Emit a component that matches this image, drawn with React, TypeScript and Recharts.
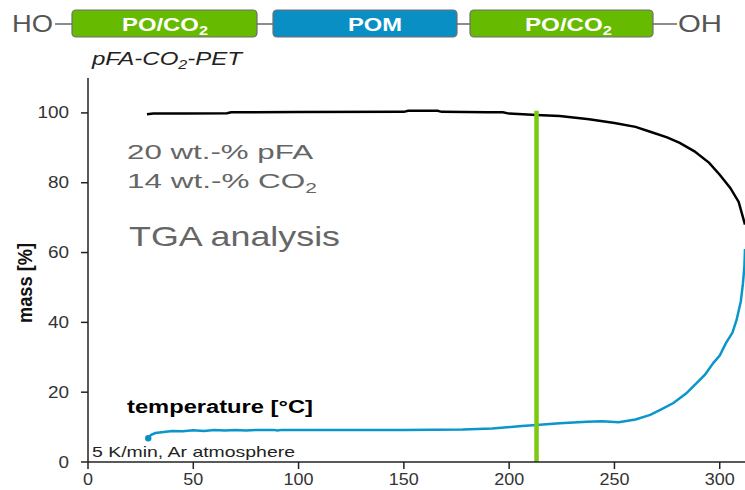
import React from 'react';
import { LineChart, Line, XAxis, YAxis, ReferenceLine } from 'recharts';

// mass curve (black): temperature [°C] vs mass [%]
const massTemp = [28, 31, 45, 66, 68, 100, 150, 152, 166, 168, 190, 197, 200, 213, 224, 238, 250, 260, 267, 275, 281, 288, 295, 300, 305, 309, 312];
const massValue = [99.6, 99.8, 99.8, 99.9, 100.2, 100.25, 100.3, 100.6, 100.6, 100.3, 100.2, 100.2, 99.8, 99.4, 99.1, 98.2, 97.1, 96.0, 94.6, 93.0, 91.4, 89.0, 85.7, 82.3, 78.5, 74.5, 68.0];

// temperature trace (blue)
const tempX = [28.6, 30, 32, 36, 40, 45, 50, 55, 60, 65, 70, 75, 80, 88, 90, 92, 120, 150, 178, 192, 206, 213, 224, 237, 244, 252, 260, 267, 272, 278, 284, 289, 293, 297, 300, 303, 306, 308, 310, 311, 311.7, 312];
const tempY = [6.8, 7.8, 8.3, 8.6, 8.9, 8.8, 9.1, 8.9, 9.2, 9.0, 9.2, 9.0, 9.2, 9.2, 9.0, 9.2, 9.2, 9.2, 9.3, 9.6, 10.3, 10.6, 11.1, 11.5, 11.7, 11.4, 12.2, 13.5, 15.0, 16.9, 19.6, 22.6, 25.0, 28.4, 30.5, 34.1, 37.0, 40.7, 46.0, 51.0, 56.0, 61.0];

const xTicks = [0, 50, 100, 150, 200, 250, 300];
const yTicks = [0, 20, 40, 60, 80, 100];
const markerTemp = 213;
const markerTop = 100.6;

const massData = massTemp.map((x, i) => ({ x, y: massValue[i] }));
const tempData = tempX.map((x, i) => ({ x, y: tempY[i] }));

const FONT = '"Liberation Sans", Arial, sans-serif';
const GREEN = '#66bb00';
const BLUE = '#0a8fc4';

const XTick = (props: any) => {
  const { x, y, payload } = props;
  const s = String(payload.value);
  return (
    <text x={x} y={y + 14} textAnchor="middle" fontSize={16} fill="#333" fontFamily={FONT}
      textLength={s.length * 10} lengthAdjust="spacingAndGlyphs">{s}</text>
  );
};

const YTick = (props: any) => {
  const { x, y, payload } = props;
  const s = String(payload.value);
  return (
    <text x={x} y={y + 5.5} textAnchor="end" fontSize={16} fill="#333" fontFamily={FONT}
      textLength={s.length * 10.5} lengthAdjust="spacingAndGlyphs">{s}</text>
  );
};

const startDot = (props: any) =>
  props.index === 0
    ? <circle key="start" cx={props.cx} cy={props.cy} r={3.2} fill={BLUE} />
    : <g key={`d-${props.index}`} />;

const Block = ({ x, w, fill, label, tx, tw, sub }: any) => (
  <g>
    <rect x={x} y={10} width={w} height={27} rx={4} fill={fill} stroke="#6f6f6f" strokeWidth={1.2} />
    <text x={tx} y={31} fill="#fff" fontWeight="bold" fontSize={19} fontFamily={FONT}
      textLength={tw} lengthAdjust="spacingAndGlyphs">
      {label}
      {sub && <tspan fontSize={13} dy={4}>{sub}</tspan>}
    </text>
  </g>
);

export default function App() {
  return (
    <div style={{ position: 'relative', width: 745, height: 490, background: '#fff' }}>
      <style>{'body{margin:0}'}</style>
      <LineChart width={745} height={490} margin={{ top: 78, right: 0, bottom: 0, left: 0 }}>
        <XAxis dataKey="x" type="number" domain={[0, 312]} ticks={xTicks} allowDataOverflow
          height={28} tickSize={7} tickMargin={2} tick={<XTick />}
          stroke="#222" strokeWidth={1.5} />
        <YAxis type="number" domain={[0, 110]} ticks={yTicks} allowDataOverflow
          width={88} tickSize={7} tickMargin={12} tick={<YTick />}
          stroke="#222" strokeWidth={1.5} />
        <Line data={massData} dataKey="y" type="linear" stroke="#000" strokeWidth={2.5}
          dot={false} isAnimationActive={false} />
        <Line data={tempData} dataKey="y" type="linear" stroke="#0a96cc" strokeWidth={2.5}
          dot={startDot} isAnimationActive={false} />
        <ReferenceLine segment={[{ x: markerTemp, y: 0 }, { x: markerTemp, y: markerTop }]}
          stroke="#7cc813" strokeWidth={4.5} />
      </LineChart>

      <svg width={745} height={490} style={{ position: 'absolute', left: 0, top: 0, pointerEvents: 'none' }}>
        {/* structure banner */}
        <text x={12} y={32} fontSize={24} fill="#555" fontFamily={FONT} textLength={41} lengthAdjust="spacingAndGlyphs">HO</text>
        <line x1={55} y1={24} x2={72} y2={24} stroke="#666" strokeWidth={1.5} />
        <Block x={72} w={185} fill={GREEN} label="PO/CO" sub="2" tx={122} tw={86} />
        <line x1={257} y1={24} x2={273} y2={24} stroke="#666" strokeWidth={1.5} />
        <Block x={273} w={184} fill={BLUE} label="POM" tx={348} tw={54} />
        <line x1={457} y1={24} x2={470} y2={24} stroke="#666" strokeWidth={1.5} />
        <Block x={470} w={183} fill={GREEN} label="PO/CO" sub="2" tx={525} tw={87} />
        <line x1={653} y1={24} x2={677} y2={24} stroke="#666" strokeWidth={1.5} />
        <text x={678} y={32} fontSize={24} fill="#555" fontFamily={FONT} textLength={44} lengthAdjust="spacingAndGlyphs">OH</text>

        <text x={92} y={65} fontSize={18} fontStyle="italic" fill="#222" fontFamily={FONT}
          textLength={150} lengthAdjust="spacingAndGlyphs">
          pFA-CO<tspan fontSize={12} dy={4}>2</tspan><tspan dy={-4}>-PET</tspan>
        </text>

        {/* axis title */}
        <text x={25} y={283} transform="rotate(-90 25 283)" textAnchor="middle" dominantBaseline="central"
          fontSize={20} fontWeight="bold" fill="#111" fontFamily={FONT}
          textLength={80} lengthAdjust="spacingAndGlyphs">mass [%]</text>

        {/* annotations */}
        <text x={127} y={159} fontSize={21} fill="#666" fontFamily={FONT} textLength={186} lengthAdjust="spacingAndGlyphs">20 wt.-% pFA</text>
        <text x={127} y={188} fontSize={21} fill="#666" fontFamily={FONT} textLength={190} lengthAdjust="spacingAndGlyphs">
          14 wt.-% CO<tspan fontSize={14} dy={5}>2</tspan>
        </text>
        <text x={129} y={246} fontSize={28} fill="#666" fontFamily={FONT} textLength={211} lengthAdjust="spacingAndGlyphs">TGA analysis</text>
        <text x={127} y={413} fontSize={18} fontWeight="bold" fill="#000" fontFamily={FONT} textLength={186} lengthAdjust="spacingAndGlyphs">temperature [°C]</text>
        <text x={92} y={457} fontSize={15} fill="#222" fontFamily={FONT} textLength={203} lengthAdjust="spacingAndGlyphs">5 K/min, Ar atmosphere</text>
      </svg>
    </div>
  );
}
